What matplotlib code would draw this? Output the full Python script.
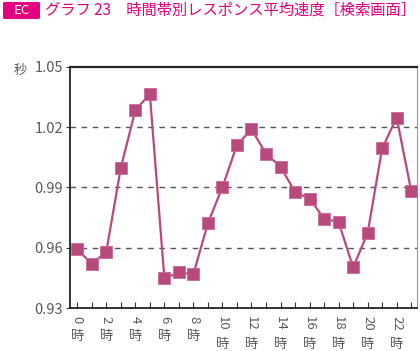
import matplotlib
matplotlib.use("Agg")
import matplotlib.pyplot as plt
from matplotlib.patches import FancyBboxPatch
from matplotlib.transforms import blended_transform_factory, offset_copy

plt.rcParams['font.family'] = ['Noto Sans CJK JP', 'DejaVu Sans']

hours = list(range(24))
speed = [0.9592, 0.9520, 0.9580, 0.9998, 1.0285, 1.0365, 0.9447, 0.9477, 0.9468,
         0.9723, 0.9902, 1.0112, 1.0190, 1.0068, 1.0004, 0.9877, 0.9845, 0.9745,
         0.9728, 0.9502, 0.9673, 1.0095, 1.0248, 0.9883]
yticks = [0.93, 0.96, 0.99, 1.02, 1.05]
ytick_labels = ["0.93", "0.96", "0.99", "1.02", "1.05"]
xlabel_hours = list(range(0, 24, 2))
xlabel_nums = [str(h) for h in xlabel_hours]
unit_hour = "時"
title = "グラフ 23\u3000時間帯別レスポンス平均速度［検索画面］"
badge = "EC"
yunit = "秒"

pink = "#e4007f"
line_col = "#b8497d"
gray = "#595959"

fig = plt.figure(figsize=(4.2, 3.51), dpi=100)
ax = fig.add_axes([70/420, 1-308/351, 347/420, 241/351])

ax.plot(hours, speed, color=line_col, lw=1.6, marker='s', markersize=9,
        markerfacecolor=line_col, markeredgecolor="#c96a96", markeredgewidth=0.6, zorder=3)

ax.set_xlim(-0.5, 23.4)
ax.set_ylim(0.93, 1.05)
ax.set_yticks(yticks)
ax.set_yticklabels(ytick_labels)
for y in yticks[1:-1]:
    ax.axhline(y, color="#555555", lw=1.0, ls=(0, (4, 4)), zorder=1)

ax.set_xticks(hours)
ax.set_xticklabels([])
ax.tick_params(axis='x', direction='in', length=4, width=0.8, color="#333333")
ax.tick_params(axis='y', direction='out', length=3, width=0.8, color="#333333",
               labelsize=10.5, labelcolor=gray, pad=2)

for s in ['left', 'bottom']:
    ax.spines[s].set_color("#222222")
    ax.spines[s].set_linewidth(1.3)
ax.spines['top'].set_color("#222222")
ax.spines['top'].set_linewidth(1.6)
ax.spines['right'].set_color("#999999")
ax.spines['right'].set_linewidth(0.8)

trans = blended_transform_factory(ax.transData, ax.transAxes)
for h, lab in zip(xlabel_hours, xlabel_nums):
    t1 = offset_copy(trans, fig=fig, x=0, y=-6, units='points')
    ax.text(h, 0, lab, rotation=-90, ha='center', va='top', fontsize=9.5,
            color=gray, transform=t1)
    dy = -16 if len(lab) == 1 else -21.5
    t2 = offset_copy(trans, fig=fig, x=0, y=dy, units='points')
    ax.text(h, 0, unit_hour, ha='center', va='top', fontsize=9.5,
            color=gray, transform=t2)

fig.text(20/420, 1-70/351, yunit, ha='center', va='center', fontsize=9.5, color=gray)

# title
box = FancyBboxPatch((3/420, 1-19/351), 37/420, 17/351, boxstyle="round,pad=0,rounding_size=0.004",
                     transform=fig.transFigure, facecolor=pink, edgecolor='none')
fig.patches.append(box)
fig.text(21.5/420, 1-10.5/351, badge, ha='center', va='center', fontsize=9.5, color='white')
fig.text(45/420, 1-10.5/351, title, ha='left', va='center', fontsize=11.0, color=pink)

fig.savefig("out.png", dpi=100, facecolor='white')
